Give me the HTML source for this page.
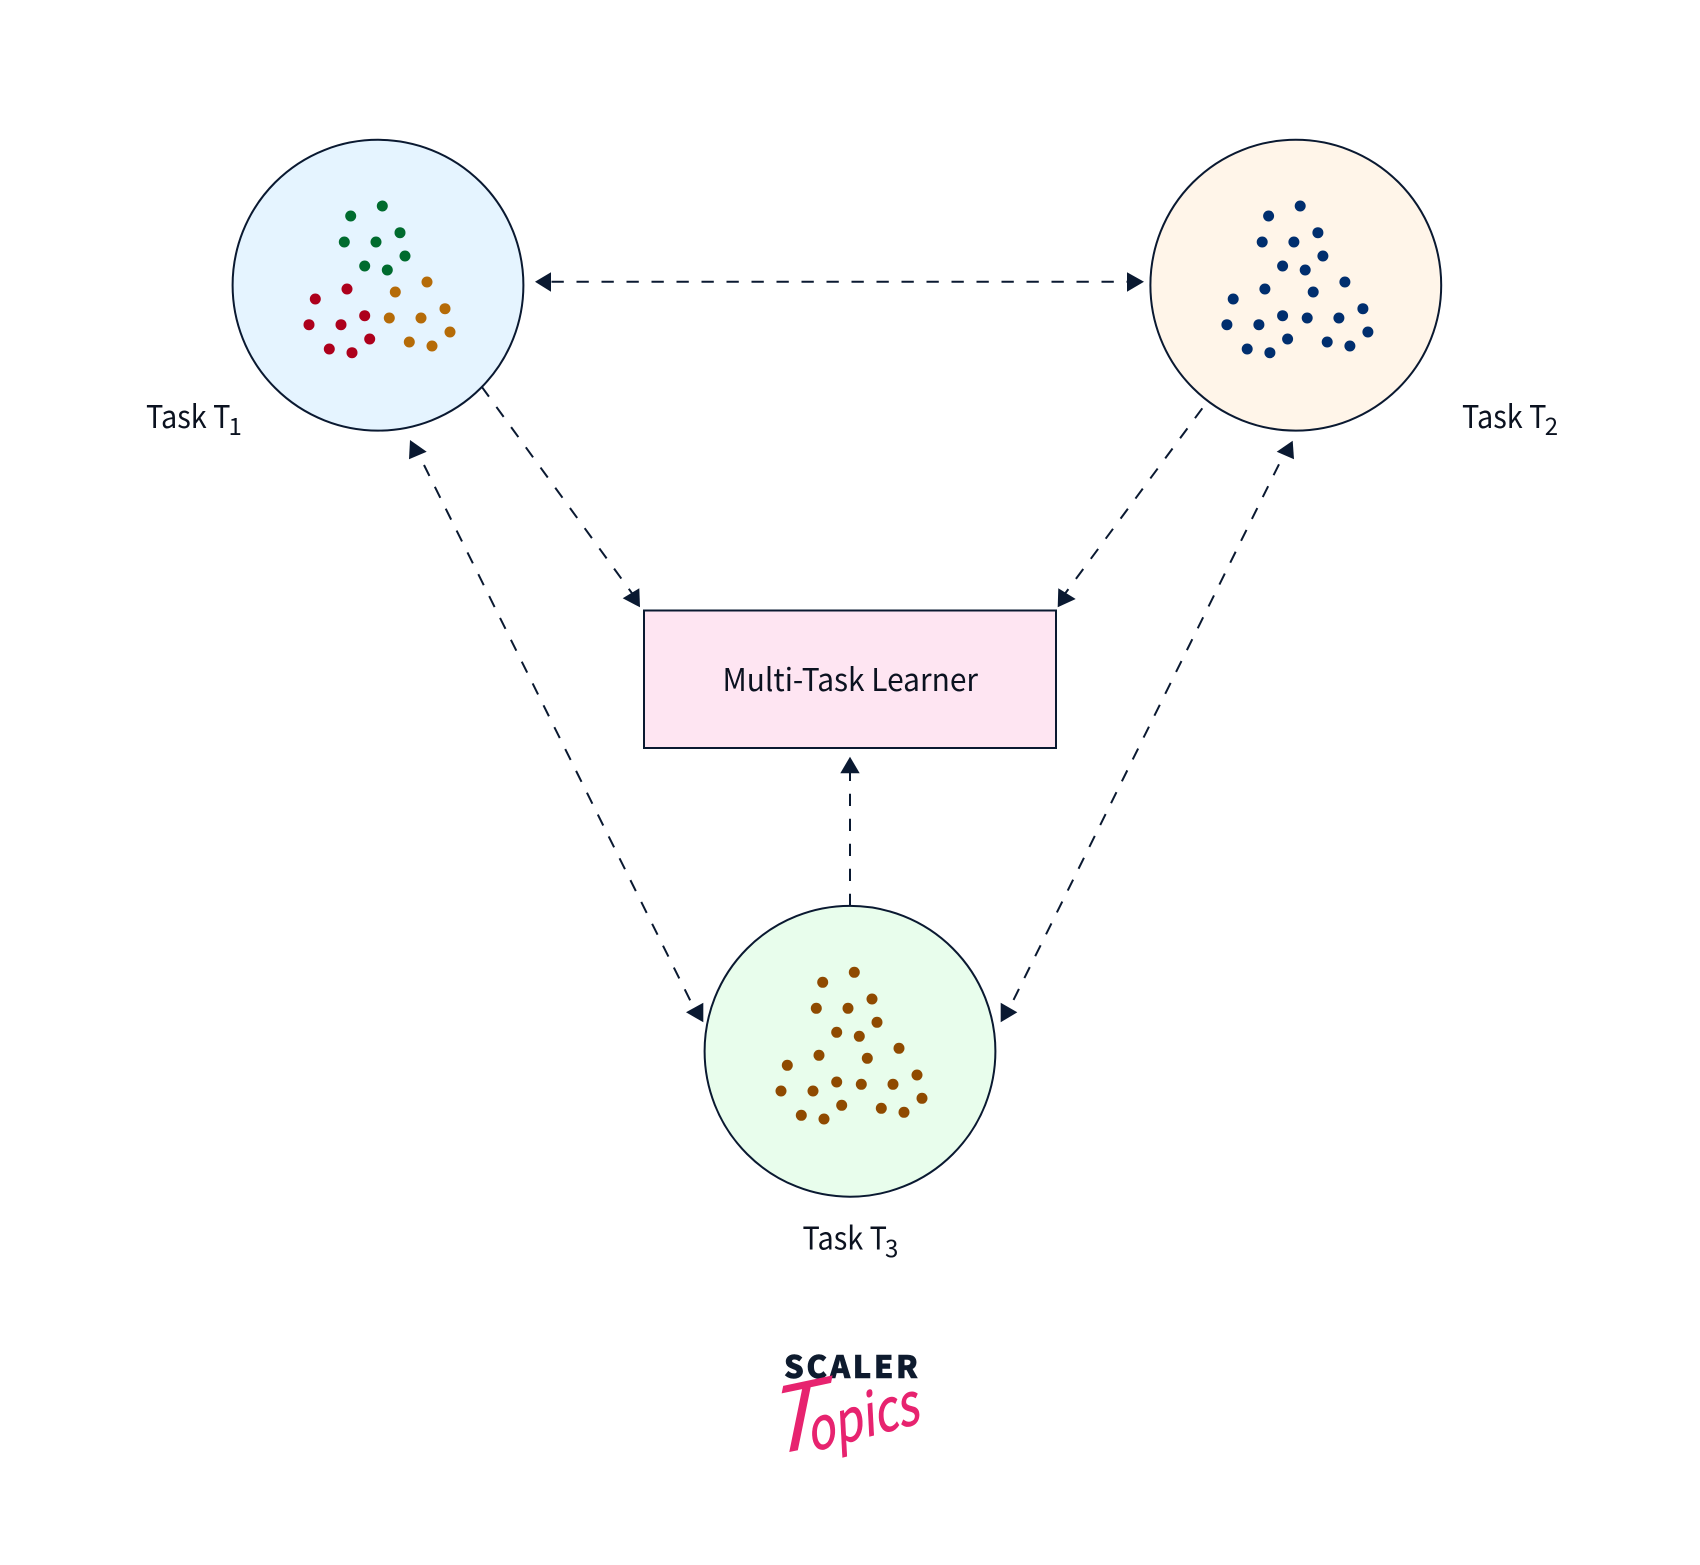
<!DOCTYPE html>
<html>
<head>
<meta charset="utf-8">
<title>Multi-Task Learner</title>
<style>
html,body{margin:0;padding:0;background:#fff;width:1700px;height:1565px;overflow:hidden}
svg{display:block}
.l{font-family:"Noto Sans CJK JP","Liberation Sans",sans-serif;font-size:31.5px;fill:#0b1220}
.s{font-size:24px}
</style>
</head>
<body>
<svg width="1700" height="1565" viewBox="0 0 1700 1565" xmlns="http://www.w3.org/2000/svg">
<defs>
<g id="gd"><circle cx="382.3" cy="206" r="5.5"/><circle cx="350.7" cy="216" r="5.5"/><circle cx="400" cy="232.7" r="5.5"/><circle cx="344.3" cy="242" r="5.5"/><circle cx="376" cy="242" r="5.5"/><circle cx="405" cy="256" r="5.5"/><circle cx="364.7" cy="266" r="5.5"/><circle cx="387.3" cy="270" r="5.5"/></g>
<g id="od"><circle cx="427" cy="282" r="5.5"/><circle cx="395.3" cy="292" r="5.5"/><circle cx="445" cy="308.7" r="5.5"/><circle cx="389.3" cy="318" r="5.5"/><circle cx="421" cy="318" r="5.5"/><circle cx="450" cy="332" r="5.5"/><circle cx="409.3" cy="342" r="5.5"/><circle cx="432" cy="346" r="5.5"/></g>
<g id="rd"><circle cx="347" cy="289" r="5.5"/><circle cx="315.3" cy="299" r="5.5"/><circle cx="364.7" cy="315.7" r="5.5"/><circle cx="309" cy="324.7" r="5.5"/><circle cx="341" cy="324.7" r="5.5"/><circle cx="369.7" cy="339" r="5.5"/><circle cx="329.3" cy="349" r="5.5"/><circle cx="352" cy="352.7" r="5.5"/></g>
</defs>

<circle cx="378" cy="285.2" r="145.4" fill="#e5f4ff" stroke="#0a1931" stroke-width="2"/>
<circle cx="1295.8" cy="285.2" r="145.4" fill="#fff5e9" stroke="#0a1931" stroke-width="2"/>
<circle cx="850" cy="1051.3" r="145.4" fill="#e8fdec" stroke="#0a1931" stroke-width="2"/>
<rect x="644" y="610.5" width="412" height="137.5" fill="#fee5f2" stroke="#0a1931" stroke-width="2"/>

<use href="#gd" fill="#006b2e"/><use href="#od" fill="#b56b08"/><use href="#rd" fill="#ad001c"/>
<g transform="translate(917.9 0)" fill="#002e6e"><use href="#gd"/><use href="#od"/><use href="#rd"/></g>
<g transform="translate(472 766.3)" fill="#8f4a00"><use href="#gd"/><use href="#od"/><use href="#rd"/></g>

<g fill="none" stroke="#0a1931" stroke-width="2">
<line x1="551.5" y1="281.7" x2="1128" y2="281.7" stroke-dasharray="12.3 12.7"/>
<line x1="481.7" y1="386.7" x2="634" y2="596" stroke-dasharray="12.3 12.7"/>
<line x1="1202.3" y1="408.3" x2="1064" y2="595" stroke-dasharray="12.3 12.7"/>
<line x1="850" y1="906" x2="850" y2="773" stroke-dasharray="12.3 12.7"/>
<line x1="424" y1="465" x2="691" y2="1002" stroke-dasharray="12.2 12.2"/>
<line x1="1279" y1="464.3" x2="1012.5" y2="1002" stroke-dasharray="12.2 12.2"/>
</g>

<g fill="#0a1931">
<polygon points="551,272.3 535,281.7 551,291.7"/>
<polygon points="1127,272.3 1144,281.7 1127,291.7"/>
<polygon points="639.3,588.3 622.7,598.3 640,607.3"/>
<polygon points="1058.3,588.3 1075.7,599 1057.7,607.3"/>
<polygon points="850,756.7 840.3,773.3 859.7,773.3"/>
<polygon points="410,440 426.7,451.7 409,459.3"/>
<polygon points="703.3,1002.7 686,1012.3 703.3,1022.3"/>
<polygon points="1292.7,440.7 1276.7,451.7 1294,459.3"/>
<polygon points="1000.7,1002.7 1017.3,1012.3 1000.7,1022.3"/>
</g>

<text class="l" x="722.5" y="691" textLength="255.5" lengthAdjust="spacingAndGlyphs">Multi-Task Learner</text>
<text class="l" x="146" y="428" textLength="84.5" lengthAdjust="spacingAndGlyphs">Task T</text><text class="l s" x="228.5" y="435">1</text>
<text class="l" x="1462" y="428" textLength="84.5" lengthAdjust="spacingAndGlyphs">Task T</text><text class="l s" x="1544.7" y="435">2</text>
<text class="l" x="802.5" y="1249.5" textLength="84.5" lengthAdjust="spacingAndGlyphs">Task T</text><text class="l s" x="885" y="1257">3</text>

<text x="784" y="1378" textLength="134" font-family="'Noto Sans CJK JP','Liberation Sans',sans-serif" font-weight="900" font-size="31" fill="#0e1b2e" stroke="#0e1b2e" stroke-width="0.6">SCALER</text>
<g font-family="'Noto Sans CJK JP','Liberation Sans',sans-serif" fill="#e7236f">
<text transform="translate(766 1457) skewY(-12) skewX(-12)" font-size="92">T</text>
<text transform="translate(811 1452) rotate(-15) skewX(-12)" font-size="58" textLength="114" lengthAdjust="spacingAndGlyphs" stroke="#e7236f" stroke-width="0.8">opics</text>
</g>
</svg>
</body>
</html>
